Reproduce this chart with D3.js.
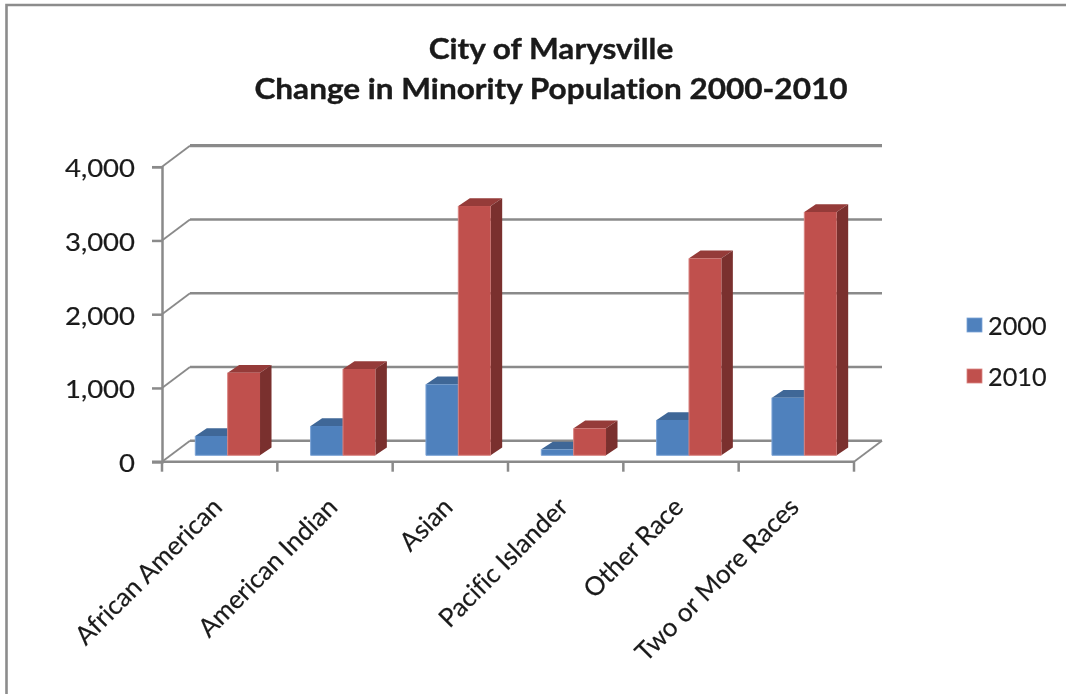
<!DOCTYPE html>
<html><head><meta charset="utf-8">
<script src="https://cdn.jsdelivr.net/npm/d3@7"></script>
<style>html,body{margin:0;padding:0;background:#fff}svg{display:block;filter:blur(0.6px)}text{font-family:Lato,"Open Sans",sans-serif;fill:#1a1a1a;font-variant-ligatures:none;font-feature-settings:"liga" 0}</style>
</head><body><svg id="c" width="1066" height="694"></svg>
<script>
const categories=["African American","American Indian","Asian","Pacific Islander","Other Race","Two or More Races"];
const seriesNames=["2000","2010"];
const values2000=[262,397,963,81,479,781];
const values2010=[1120,1170,3380,366,2671,3299];
const yTicks=[0,1000,2000,3000,4000];
const colors={"2000":{front:"#4f81bd",top:"#3f6797",side:"#395f8c",edge:"#7ba3d6"},"2010":{front:"#c0504d",top:"#953b39",side:"#7a302e",edge:"#d98583"}};

const svg=d3.select("#c");
const W=1066,H=694;
const x0=162,x1=854,yB=461.7,yT=166.7,dx=28,dy=21,baseLift=6.4,bd=11.5,bdy=7.7;
const grid="#8a8a8a";
const y=d3.scaleLinear().domain([0,4000]).range([yB,yT]);
const x=d3.scaleBand().domain(categories).range([x0,x1]);
const groupPad=33.3, barW=(x.bandwidth()-groupPad*1.52)/2;
const xs=d3.scaleBand().domain(seriesNames).range([0,barW*2]);

// outer frame
svg.append("path").attr("d",`M6.5,${H} V5 H${W}`).attr("fill","none").attr("stroke","#8c8c8c").attr("stroke-width",2.6);

// title
const title=svg.append("g").attr("text-anchor","middle").attr("transform","translate(551,0) scale(1.088,1)")
  .style("font-weight",700).style("font-size","29px").style("stroke","#111").style("stroke-width",0.35);
title.append("text").attr("y",59).text("City of Marysville");
title.append("text").attr("y",99).text("Change in Minority Population 2000-2010");

// back wall gridlines, side wall diagonals
const g=svg.append("g").attr("stroke",grid).attr("fill","none");
yTicks.forEach(t=>{
  g.append("line").attr("x1",x0+dx).attr("x2",x1+dx).attr("y1",y(t)-dy).attr("y2",y(t)-dy).attr("stroke-width",t===4000?3.2:2.4);
  g.append("line").attr("x1",x0).attr("x2",x0+dx).attr("y1",y(t)).attr("y2",y(t)-dy).attr("stroke-width",1.8);
});
g.append("line").attr("x1",x1).attr("x2",x1+dx).attr("y1",y(0)).attr("y2",y(0)-dy).attr("stroke-width",1.8);

// axes
const ya=svg.append("g").attr("transform",`translate(${x0},0)`).call(d3.axisLeft(y).tickValues(yTicks).tickFormat(d3.format(",")).tickSize(10));
ya.selectAll("path,line").attr("stroke",grid).attr("stroke-width",2.5);
ya.selectAll("text").attr("x",0).style("font-size","25px").style("font-family","Lato,sans-serif").attr("fill","#1a1a1a")
  .attr("dy","0.36em").attr("transform","translate(-27,1) scale(1.1,1)").style("stroke","#1a1a1a").style("stroke-width",0.2);
const xa=svg.append("g").attr("transform",`translate(0,${yB})`);
xa.append("line").attr("x1",x0-10).attr("x2",x1).attr("stroke",grid).attr("stroke-width",2.5);
categories.forEach(c=>xa.append("line").attr("x1",x(c)).attr("x2",x(c)).attr("y2",10).attr("stroke",grid).attr("stroke-width",2.5));
xa.append("line").attr("x1",x1).attr("x2",x1).attr("y2",10).attr("stroke",grid).attr("stroke-width",2.5);

// bars
const seriesData=[values2000,values2010];
categories.forEach((c,i)=>{
  seriesNames.forEach((s,k)=>{
    const v=seriesData[k][i];
    const l=x(c)+groupPad+xs(s), w=xs.bandwidth(), b=y(0)-baseLift, t=y(v)-baseLift, col=colors[s];
    const bar=svg.append("g");
    bar.append("path").attr("fill",col.top).attr("d",`M${l},${t} L${l+bd},${t-bdy} H${l+w+bd} L${l+w},${t} Z`);
    bar.append("path").attr("fill",col.side).attr("d",`M${l+w},${t} L${l+w+bd},${t-bdy} V${b-bdy} L${l+w},${b} Z`);
    bar.append("rect").attr("x",l).attr("y",t).attr("width",w).attr("height",b-t).attr("fill",col.front);
    bar.append("path").attr("fill","none").attr("stroke",col.edge).attr("stroke-width",1).attr("d",`M${l},${t} V${b} H${l+w}`);
  });
});

// category labels
categories.forEach(c=>{
  svg.append("text").attr("text-anchor","end").style("font-size","25.9px").style("stroke","#1a1a1a").style("stroke-width",0.2)
    .attr("transform",`translate(${x(c)+x.bandwidth()/2+4},${yB+47}) rotate(-45)`).text(c);
});

// legend
const legY=d3.scalePoint().domain(seriesNames).range([325,376]);
seriesNames.forEach(s=>{
  svg.append("rect").attr("x",967).attr("y",legY(s)-7).attr("width",15).attr("height",14).attr("fill",colors[s].front).attr("stroke",colors[s].edge).attr("stroke-width",0.8);
  svg.append("text").attr("transform",`translate(988,${legY(s)+9.5}) scale(1.03,1)`).style("font-size","24.5px").style("stroke","#1a1a1a").style("stroke-width",0.2).text(s);
});
</script></body></html>
